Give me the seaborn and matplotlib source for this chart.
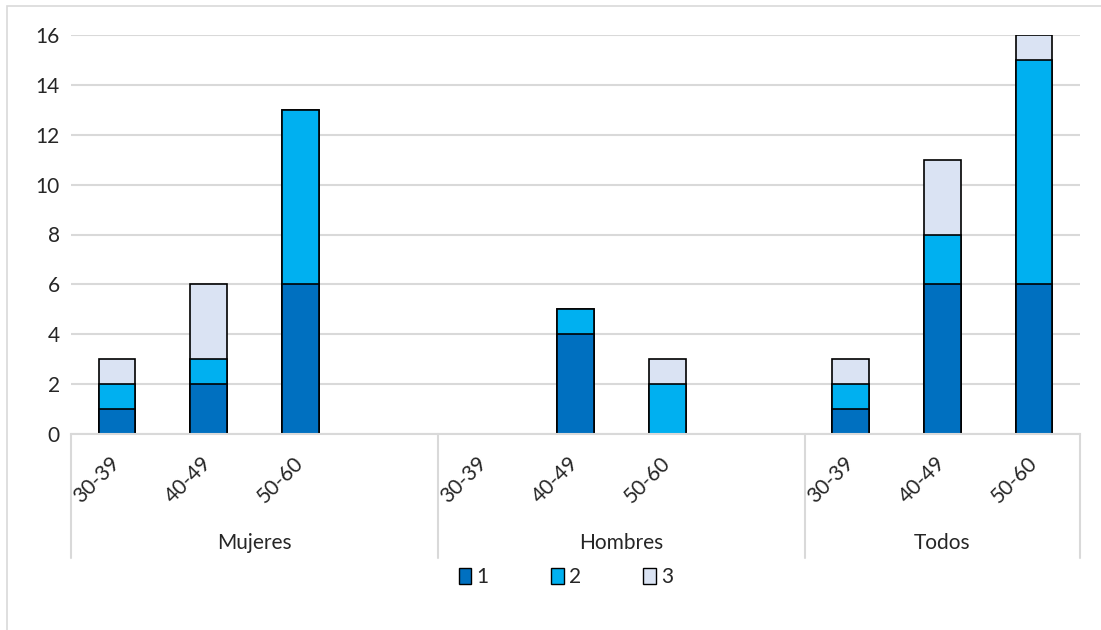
import numpy as np
import pandas as pd
import seaborn as sns
import matplotlib.pyplot as plt
from matplotlib.patches import Patch, Rectangle
from matplotlib.lines import Line2D
import matplotlib.transforms as mtransforms

#%% Data
groups = ['Mujeres', 'Hombres', 'Todos']
ages = ['30-39', '40-49', '50-60']
serie_1 = [1, 2, 6, 0, 4, 0, 1, 6, 6]
serie_2 = [1, 1, 7, 0, 1, 2, 1, 2, 9]
serie_3 = [1, 3, 0, 0, 0, 1, 1, 3, 1]
series_names = ['1', '2', '3']
plt_colors = {'1': '#0070C0', '2': '#00B0F0', '3': '#DAE3F3'}

# Excel leaves an empty slot after Mujeres and Hombres
order = []
tick_labels = []
for g in groups:
    order += [f'{g} {a}' for a in ages]
    tick_labels += ages
    if g != 'Todos':
        order.append(f'{g} _')
        tick_labels.append('')

df = pd.DataFrame({
    'group': np.repeat(groups, len(ages)),
    'age': ages * len(groups),
    's1': serie_1, 's2': serie_2, 's3': serie_3})
df['cat'] = df['group'] + ' ' + df['age']
# cumulative heights for stacking, zero -> no bar
df['top1'] = df['s1']
df['top2'] = df['s1'] + df['s2']
df['top3'] = df['s1'] + df['s2'] + df['s3']
for c in ['top1', 'top2', 'top3']:
    df.loc[df[c] == 0, c] = np.nan

#%% Plot
sns.set_style('white')
plt.rcParams['font.family'] = ['Lato', 'DejaVu Sans']
fs = 15

fig = plt.figure(figsize=(11.01, 6.30), dpi=100)
ax = fig.add_axes([71/1101, 1-434/630, (1080-71)/1101, (434-35)/630])

for col, s in zip(['top3', 'top2', 'top1'], ['3', '2', '1']):
    sns.barplot(df, x='cat', y=col, order=order, color=plt_colors[s],
                saturation=1, width=0.4, edgecolor='black', linewidth=1.2,
                errorbar=None, ax=ax)

ax.set_ylim(0, 16)
ax.set_yticks(range(0, 17, 2))
ax.yaxis.grid(True, color='#D9D9D9', linewidth=1.5)
ax.set_axisbelow(True)
ax.set_xlabel('')
ax.set_ylabel('')
for sp in ['left', 'right', 'top']:
    ax.spines[sp].set_visible(False)
ax.spines['bottom'].set_color('#D9D9D9')
ax.spines['bottom'].set_linewidth(1.5)

ax.set_xticks(range(len(order)))
ax.set_xticklabels(tick_labels, rotation=45, ha='right', va='center',
                   rotation_mode='anchor', fontsize=fs)
ax.tick_params(axis='x', length=0, pad=19)
ax.tick_params(axis='y', length=0, pad=8, labelsize=fs)

# group labels and dividers
trans = mtransforms.blended_transform_factory(ax.transData, ax.transAxes)
group_centers = [1.5, 5.5, 9.0]
for g, xc in zip(groups, group_centers):
    ax.text(xc, -0.273, g, transform=trans, ha='center', va='center', fontsize=fs)
for xd in [-0.5, 3.5, 7.5, 10.5]:
    ax.add_line(Line2D([xd, xd], [0, -0.311], transform=trans, color='#D9D9D9',
                       linewidth=1.5, clip_on=False))

handles = [Patch(facecolor=plt_colors[s], edgecolor='black', linewidth=1) for s in series_names]
fig.legend(handles, series_names, loc='center', bbox_to_anchor=(566/1101, 1-577/630),
           ncol=3, frameon=False, fontsize=fs, handlelength=0.6, handleheight=0.8,
           handletextpad=0.25, columnspacing=3.0)

# chart frame
fig.patches.append(Rectangle((7/1101, -0.1), 1.2, 1.1-6/630, transform=fig.transFigure,
                             fill=False, edgecolor='#D9D9D9', linewidth=1.2))

fig.savefig('out.png', dpi=100)
